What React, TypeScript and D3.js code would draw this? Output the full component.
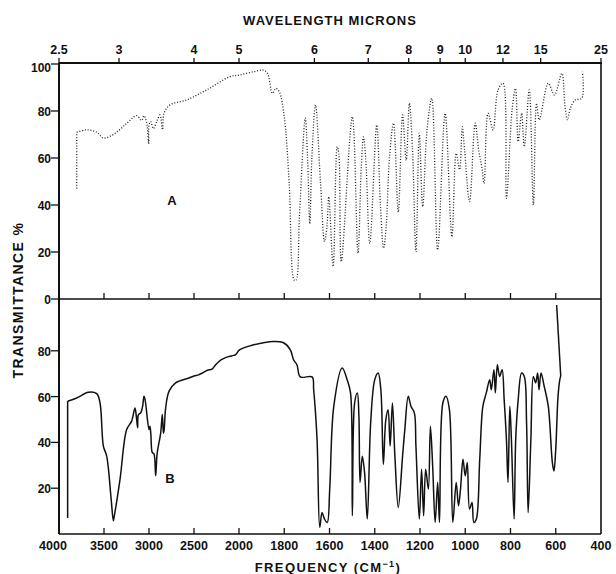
import React, { useRef, useEffect } from 'react';
import * as d3 from 'd3';

// frequency ticks (cm-1) along the bottom, wavelength ticks (microns) along the top
const freqTicks = [4000, 3500, 3000, 2500, 2000, 1800, 1600, 1400, 1200, 1000, 800, 600, 400];
const micronTicks = [2.5, 3, 4, 5, 6, 7, 8, 9, 10, 12, 15, 25];
const upperYTicks = [0, 20, 40, 60, 80, 100];
const lowerYTicks = [20, 40, 60, 80];

// spectrum A (dotted trace, upper panel): [frequency, transmittance %]
const spectrumA: [number, number][] = [
  [3803, 47], [3803, 71], [3692, 72], [3581, 71], [3508, 68.5], [3396, 70], [3248, 74.7],
  [3137, 78], [3081, 76], [3056, 78], [3026, 75], [3003, 66], [3000, 74], [2981, 75.5],
  [2952, 72.5], [2914, 75.5], [2878, 78.3], [2850, 72], [2833, 79], [2767, 82.6], [2581, 84.7],
  [2359, 89], [2100, 94.6], [1998, 95.3], [1936, 96.7], [1892, 97.4], [1874, 96], [1852, 87.5],
  [1837, 89.6], [1822, 88.2], [1800, 77.6], [1778, 49], [1756, 8], [1748, 8], [1733, 35],
  [1707, 77], [1697, 60], [1687, 32], [1678, 60], [1662, 82.6], [1640, 50], [1622, 24.4],
  [1612, 30], [1603, 43.5], [1584, 13.8], [1566, 64.8], [1559, 62], [1548, 15.9], [1499, 77.6],
  [1474, 19.4], [1460, 55], [1450, 69], [1440, 60], [1422, 23.7], [1391, 74], [1375, 40],
  [1361, 21.6], [1350, 30], [1335, 60], [1317, 74.8], [1296, 37], [1277, 78.3], [1261, 59],
  [1247, 83.3], [1233, 63.4], [1218, 20.1], [1203, 70.5], [1188, 39.3], [1169, 71.9],
  [1148, 85.4], [1122, 20.9], [1089, 79], [1059, 26.5], [1040, 62], [1025, 55], [1013, 73.3],
  [1003, 63.4], [981, 41.4], [956, 74.8], [940, 63], [926, 55.6], [917, 49.2], [899, 79],
  [877, 71.9], [855, 89], [833, 91.8], [818, 42.8], [793, 80.4], [778, 89.6], [766, 67],
  [751, 79], [739, 64.8], [717, 89], [699, 40], [685, 83.3], [673, 76.2], [633, 91.8],
  [606, 86.8], [573, 96], [559, 81.8], [548, 76.2], [536, 81.1], [514, 84.7], [485, 85.4],
  [482, 96.7],
];

// spectrum B (solid trace, lower panel)
const spectrumB: [number, number][] = [
  [3904, 7], [3904, 58], [3804, 59.4], [3674, 61.9], [3581, 61.3], [3544, 57.2], [3507, 38.4],
  [3470, 34], [3420, 15], [3396, 5.8], [3385, 8], [3322, 23.9], [3248, 45.6], [3193, 49.3],
  [3156, 55], [3140, 51], [3126, 46.4], [3118, 52], [3090, 53], [3070, 56], [3056, 60.1],
  [3045, 59], [3000, 45.6], [2990, 47], [2980, 44], [2963, 35.5], [2945, 35], [2926, 25.4],
  [2910, 35], [2870, 44.2], [2852, 52.2], [2840, 44], [2833, 45], [2815, 55], [2778, 62.3],
  [2704, 66], [2556, 68.1], [2500, 69], [2450, 69.5], [2407, 70.3], [2350, 71.5], [2300, 72],
  [2259, 73.9], [2200, 76], [2150, 77], [2111, 77.5], [2060, 78], [2037, 78.3], [1998, 80.4],
  [1936, 82.6], [1848, 84.1], [1803, 83.5], [1773, 80.4], [1759, 76.1], [1744, 73.9],
  [1729, 68.6], [1677, 68.6],
  [1670, 63], [1655, 41.3], [1643, 2.9], [1633, 9.4], [1622, 6.5], [1610, 5], [1599, 19.6],
  [1581, 55.8], [1544, 72.5], [1522, 67.4], [1507, 61.6], [1499, 8], [1489, 57.2],
  [1477, 61.6], [1470, 51.4], [1465, 22.5], [1455, 34], [1445, 26.8], [1433, 6.5],
  [1418, 48.6], [1400, 67.4], [1385, 70.3], [1373, 63], [1362, 30.4], [1351, 50],
  [1341, 54.3], [1332, 38.4], [1322, 57.2], [1311, 34], [1296, 11.6], [1277, 34],
  [1267, 45.7], [1252, 60.1], [1240, 55.8], [1225, 52.9], [1218, 38.4], [1203, 6.5],
  [1193, 28.3], [1184, 8], [1175, 28.3], [1163, 19.6], [1154, 47.1], [1144, 29.7],
  [1133, 5], [1122, 22.5], [1114, 5], [1099, 57.2], [1085, 60.1], [1070, 54.3], [1055, 5],
  [1040, 22.5], [1030, 12.3], [1021, 19.6], [1010, 32.6], [1000, 25.4], [991, 31.2],
  [981, 10.9], [970, 13.8], [962, 5], [951, 6.5], [936, 32.6], [922, 55.8], [907, 61.6],
  [892, 67.4], [885, 63], [873, 71.7], [867, 61.6], [858, 73.9], [848, 68.8], [837, 71.7],
  [828, 58.7], [818, 41.3], [811, 22.5], [803, 55.8], [796, 41.3], [784, 6.5], [777, 41.3],
  [766, 58.7], [751, 70.3], [739, 68.8], [729, 48.6], [722, 9.4], [710, 41.3], [699, 68.8],
  [689, 66], [680, 70.3], [674, 63], [665, 70.3], [651, 64.5], [633, 55.8], [615, 31.2],
  [608, 27.5], [600, 37], [590, 60], [582, 67.4], [578, 69], [596, 100],
];

const FONT = "'Liberation Sans', Arial, sans-serif";

const App = () => {
  const svgRef = useRef<SVGSVGElement>(null);

  useEffect(() => {
    const svg = d3.select(svgRef.current);
    svg.selectAll('*').remove();

    const left = 59, right = 601;
    const top = 63, mid = 299, bottom = 534;

    // grating change at 2000 cm-1: two linear segments
    const x = d3.scaleLinear().domain([4000, 2000, 400]).range([left, 239, right]);
    const yA = d3.scaleLinear().domain([0, 100]).range([mid, 64]);
    const yB = d3.scaleLinear().domain([0, 100]).range([bottom, 305]);

    const g = svg.append('g');
    const label = (sel, size = 12.5) =>
      sel.style('font-family', FONT).style('font-size', `${size}px`)
        .style('font-weight', 'bold').style('fill', '#111');

    // frame
    g.append('line').attr('x1', left).attr('x2', right + 1).attr('y1', top).attr('y2', top)
      .attr('stroke', '#111').attr('stroke-width', 2.2);
    g.append('line').attr('x1', left).attr('x2', left).attr('y1', top).attr('y2', bottom)
      .attr('stroke', '#111').attr('stroke-width', 2);
    g.append('line').attr('x1', right).attr('x2', right).attr('y1', top).attr('y2', bottom)
      .attr('stroke', '#111').attr('stroke-width', 1.6);
    g.append('line').attr('x1', left).attr('x2', right).attr('y1', mid).attr('y2', mid)
      .attr('stroke', '#111').attr('stroke-width', 1.6);
    g.append('line').attr('x1', left).attr('x2', right).attr('y1', bottom).attr('y2', bottom)
      .attr('stroke', '#111').attr('stroke-width', 1.6);

    // upward ticks on the middle and bottom lines
    const innerTicks = freqTicks.slice(1, -1);
    [mid, bottom].forEach(base => {
      g.selectAll(null).data(innerTicks).join('line')
        .attr('x1', d => x(d)).attr('x2', d => x(d))
        .attr('y1', base).attr('y2', base - 6)
        .attr('stroke', '#111').attr('stroke-width', 1.3);
    });

    // frequency labels
    label(g.selectAll(null).data(freqTicks).join('text')
      .attr('x', d => x(d) - (d === 4000 ? 6 : 0)).attr('y', 550)
      .attr('text-anchor', 'middle'))
      .text(d => d);

    // wavelength ticks and labels on top
    g.selectAll(null).data(micronTicks).join('line')
      .attr('x1', d => x(1e4 / d)).attr('x2', d => x(1e4 / d))
      .attr('y1', top).attr('y2', top - 5)
      .attr('stroke', '#111').attr('stroke-width', 1.3);
    label(g.selectAll(null).data(micronTicks).join('text')
      .attr('x', d => x(1e4 / d)).attr('y', 54)
      .attr('text-anchor', 'middle'))
      .text(d => d);

    // y ticks, both panels
    const yTick = (scale, values) => {
      g.selectAll(null).data(values).join('line')
        .attr('x1', left - 8).attr('x2', left).attr('y1', d => scale(d)).attr('y2', d => scale(d))
        .attr('stroke', '#111').attr('stroke-width', 1.3);
      label(g.selectAll(null).data(values).join('text')
        .attr('x', left - 8).attr('y', d => scale(d) + (d === 100 ? 8 : 5))
        .attr('text-anchor', 'end'), 12)
        .text(d => d);
    };
    yTick(yA, upperYTicks);
    yTick(yB, lowerYTicks);

    // titles
    label(g.append('text').attr('x', 330).attr('y', 25).attr('text-anchor', 'middle'), 13)
      .style('letter-spacing', '1px').text('WAVELENGTH MICRONS');
    label(g.append('text').attr('x', 328).attr('y', 572).attr('text-anchor', 'middle'), 13)
      .style('letter-spacing', '1.4px')
      .html('FREQUENCY (CM<tspan dy="-5" font-size="9">−1</tspan><tspan dy="5">)</tspan>');
    label(g.append('text').attr('transform', 'translate(23,300) rotate(-90)')
      .attr('text-anchor', 'middle'), 14)
      .style('letter-spacing', '1.4px').text('TRANSMITTANCE %');

    // spectra: the pen drops at the start (and B's final pen lift) are straight strokes,
    // the rest is smoothed
    const curve = d3.curveCatmullRom.alpha(0.5);
    const lineA = d3.line<[number, number]>().x(d => x(d[0])).y(d => yA(d[1]));
    const lineB = d3.line<[number, number]>().x(d => x(d[0])).y(d => yB(d[1]));
    const nB = spectrumB.length;

    const dotted = (sel) => sel.attr('fill', 'none').attr('stroke', '#222')
      .attr('stroke-width', 1.3).attr('stroke-dasharray', '1,1.8');
    dotted(g.append('path').datum(spectrumA.slice(0, 2)).attr('d', lineA));
    dotted(g.append('path').datum(spectrumA.slice(1)).attr('d', lineA.curve(curve)));

    const solid = (sel) => sel.attr('fill', 'none').attr('stroke', '#111')
      .attr('stroke-width', 1.5).attr('stroke-linejoin', 'round');
    solid(g.append('path').datum(spectrumB.slice(0, 2)).attr('d', lineB));
    solid(g.append('path').datum(spectrumB.slice(nB - 2)).attr('d', lineB));
    solid(g.append('path').datum(spectrumB.slice(1, nB - 1)).attr('d', lineB.curve(curve)));

    // panel letters
    label(g.append('text').attr('x', 172).attr('y', 205).attr('text-anchor', 'middle'), 13).text('A');
    label(g.append('text').attr('x', 170).attr('y', 483).attr('text-anchor', 'middle'), 13).text('B');
  }, []);

  return (
    <div style={{ position: 'absolute', left: 0, top: 0, background: '#fff' }}>
      <svg ref={svgRef} width={616} height={574} style={{ display: 'block' }}></svg>
    </div>
  );
};

export default App;
